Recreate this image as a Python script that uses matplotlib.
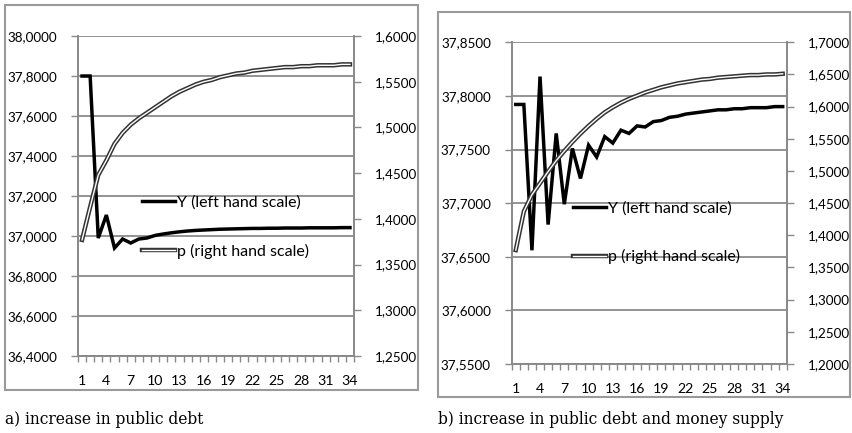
import numpy as np
import matplotlib
matplotlib.use("Agg")
import matplotlib.pyplot as plt
import matplotlib.patheffects as pe
from matplotlib.patches import Rectangle
from matplotlib.ticker import FuncFormatter

plt.rcParams['font.family'] = ['Lato', 'DejaVu Sans']

periods = list(range(1, 35))

# a) increase in public debt
y_debt = [37.800, 37.800, 36.990, 37.105, 36.940, 36.985, 36.965, 36.985, 36.990, 37.003,
          37.010, 37.016, 37.021, 37.025, 37.028, 37.030, 37.032, 37.034, 37.035, 37.036,
          37.037, 37.038, 37.038, 37.039, 37.039, 37.040, 37.040, 37.040, 37.041, 37.041,
          37.041, 37.041, 37.042, 37.042]
p_debt = [1.377, 1.413, 1.448, 1.464, 1.482, 1.494, 1.503, 1.510, 1.516, 1.522,
          1.528, 1.534, 1.539, 1.543, 1.547, 1.550, 1.552, 1.555, 1.557, 1.559,
          1.560, 1.562, 1.563, 1.564, 1.565, 1.566, 1.566, 1.567, 1.567, 1.568,
          1.568, 1.568, 1.569, 1.569]

# b) increase in public debt and money supply
y_money = [37.792, 37.792, 37.656, 37.818, 37.680, 37.765, 37.699, 37.751, 37.723, 37.754,
           37.743, 37.762, 37.756, 37.768, 37.765, 37.772, 37.771, 37.776, 37.777, 37.780,
           37.781, 37.783, 37.784, 37.785, 37.786, 37.787, 37.787, 37.788, 37.788, 37.789,
           37.789, 37.789, 37.790, 37.790]
p_money = [1.377, 1.437, 1.463, 1.481, 1.499, 1.516, 1.531, 1.545, 1.558, 1.570,
           1.581, 1.591, 1.599, 1.606, 1.612, 1.617, 1.622, 1.626, 1.630, 1.633,
           1.636, 1.638, 1.640, 1.642, 1.643, 1.645, 1.646, 1.647, 1.648, 1.649,
           1.649, 1.650, 1.650, 1.651]

left_ticks_a = [36.4, 36.6, 36.8, 37.0, 37.2, 37.4, 37.6, 37.8, 38.0]
right_ticks_a = [1.25, 1.30, 1.35, 1.40, 1.45, 1.50, 1.55, 1.60]
left_ticks_b = [37.55, 37.60, 37.65, 37.70, 37.75, 37.80, 37.85]
right_ticks_b = [1.20, 1.25, 1.30, 1.35, 1.40, 1.45, 1.50, 1.55, 1.60, 1.65, 1.70]

label_y = "Y (left hand scale)"
label_p = "p (right hand scale)"
captions = ["a) increase in public debt", "b) increase in public debt and money supply"]

GRID = '#8a8a8a'
TICK_FS = 9.7
LEG_FS = 11.5


def comma_fmt(v, pos):
    return f"{v:.4f}".replace('.', ',')


def draw_panel(fig, rect, y_vals, p_vals, lticks, rticks, legend_anchor):
    ax = fig.add_axes(rect)
    ax2 = ax.twinx()

    ax.set_xlim(0.5, len(periods) + 0.5)
    ax.set_ylim(lticks[0], lticks[-1])
    ax2.set_ylim(rticks[0], rticks[-1])
    ax.set_yticks(lticks)
    ax2.set_yticks(rticks)
    ax.yaxis.set_major_formatter(FuncFormatter(comma_fmt))
    ax2.yaxis.set_major_formatter(FuncFormatter(comma_fmt))

    ax.set_xticks(periods[::3])
    ax.set_xticks(np.arange(0.5, len(periods) + 1, 1.0), minor=True)
    ax.tick_params(axis='x', which='major', length=0, pad=14, labelsize=TICK_FS + 0.5)
    ax.tick_params(axis='x', which='minor', length=4, width=1.0, color=GRID, direction='out')
    ax.tick_params(axis='y', length=5, width=1.0, color=GRID, pad=10, labelsize=TICK_FS)
    ax2.tick_params(axis='y', length=5, width=1.0, color=GRID, pad=10, labelsize=TICK_FS)

    ax.grid(axis='y', color=GRID, linewidth=1.3)
    ax.set_axisbelow(True)
    for a in (ax, ax2):
        a.spines['top'].set_visible(False)
        for s in ('left', 'right', 'bottom'):
            a.spines[s].set_color(GRID)
            a.spines[s].set_linewidth(1.3)

    ly, = ax.plot(periods, y_vals, color='black', linewidth=2.5, label=label_y,
                  solid_joinstyle='miter', zorder=3)
    lp, = ax2.plot(periods, p_vals, color='white', linewidth=1.0, label=label_p,
                   path_effects=[pe.Stroke(linewidth=3.2, foreground='#333333'), pe.Normal()])

    ax2.legend(handles=[ly, lp], loc='center left', bbox_to_anchor=legend_anchor,
               frameon=False, fontsize=LEG_FS, handlelength=2.05, handletextpad=0.15,
               labelspacing=2.1, borderpad=0, borderaxespad=0)
    return ax, ax2


fig = plt.figure(figsize=(8.52, 4.33), dpi=100)

draw_panel(fig, [0.0915, 0.1778, 0.324, 0.739], y_debt, p_debt,
           left_ticks_a, right_ticks_a, (0.232, 0.403))
draw_panel(fig, [0.6006, 0.1594, 0.3228, 0.743], y_money, p_money,
           left_ticks_b, right_ticks_b, (0.222, 0.4075))

# chart frames
fig.add_artist(Rectangle((5 / 852, 1 - 390 / 433), 413 / 852, 385 / 433,
                         transform=fig.transFigure, fill=False, edgecolor='#9a9a9a', linewidth=1.5))
fig.add_artist(Rectangle((438 / 852, 1 - 397 / 433), 412 / 852, 385 / 433,
                         transform=fig.transFigure, fill=False, edgecolor='#9a9a9a', linewidth=1.5))

fig.text(5 / 852, 1 - 420 / 433, captions[0], family='DejaVu Serif', fontsize=11.2,
         va='center', ha='left')
fig.text(438 / 852, 1 - 420 / 433, captions[1], family='DejaVu Serif', fontsize=11.2,
         va='center', ha='left')

fig.savefig('out.png', dpi=100)
